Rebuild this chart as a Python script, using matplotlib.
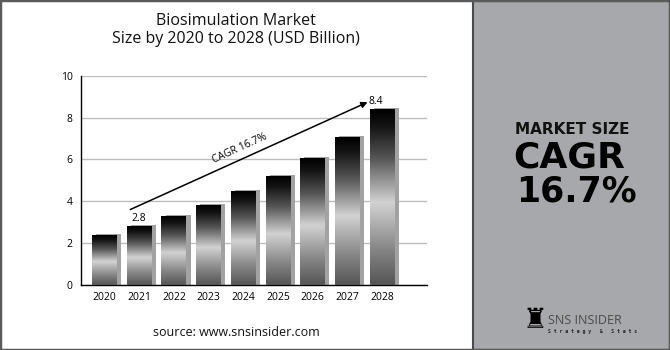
import matplotlib
matplotlib.use("Agg")
import matplotlib.pyplot as plt
import numpy as np
from matplotlib.colors import LinearSegmentedColormap
from matplotlib.patches import Rectangle

years = ["2020", "2021", "2022", "2023", "2024", "2025", "2026", "2027", "2028"]
values = [2.38, 2.8, 3.27, 3.82, 4.45, 5.2, 6.05, 7.07, 8.4]
yticks = [0, 2, 4, 6, 8, 10]
labeled = {"2021": "2.8", "2028": "8.4"}
title = "Biosimulation Market\nSize by 2020 to 2028 (USD Billion)"
cagr_text = "CAGR 16.7%"

fig = plt.figure(figsize=(6.7, 3.5), dpi=100)
fig.patch.set_facecolor("white")

# right panel
fig.patches.append(Rectangle((473/670, 0.0), 1 - 473/670, 1.0, transform=fig.transFigure,
                             facecolor="#a7a8ab", edgecolor="#4a4a4a", lw=1.5, zorder=0))
# outer frame
fig.patches.append(Rectangle((0.0, 0.0), 1.0, 1.0, transform=fig.transFigure,
                             facecolor="none", edgecolor="#5a5a5a", lw=2.5, zorder=5))

ax = fig.add_axes([81/670, 65/350, 346/670, 209.3/350])
x = np.arange(len(years))
w = 0.72

cmap = LinearSegmentedColormap.from_list("bar", [
    (0.0, "#555555"), (0.2, "#858585"), (0.47, "#d2d2d2"),
    (0.72, "#565656"), (0.9, "#151515"), (1.0, "#000000")])
grad = np.linspace(0, 1, 256).reshape(-1, 1)

ax.bar(x + 0.12, np.array(values) + 0.07, width=w, color="#a2a2a2", zorder=2)
for xi, v in zip(x, values):
    ax.imshow(grad, cmap=cmap, origin="lower", aspect="auto",
              extent=[xi - w/2, xi + w/2, 0, v], zorder=3, interpolation="bilinear")
ax.set_xlim(-0.677, 9.29)
ax.set_ylim(0, 10)

ax.set_yticks(yticks)
ax.yaxis.grid(True, color="#bdbdbd", lw=1)
ax.set_axisbelow(True)
ax.set_xticks(x)
ax.set_xticklabels(years, fontsize=7.5, family="Open Sans")
for t in ax.get_yticklabels():
    t.set_fontsize(7.5)
    t.set_family("Open Sans")
ax.tick_params(length=0, pad=5)
ax.tick_params(axis="y", pad=6)
for s in ["top", "right"]:
    ax.spines[s].set_visible(False)
ax.spines["left"].set_color("black")
ax.spines["bottom"].set_color("black")
ax.spines["left"].set_linewidth(1)
ax.spines["bottom"].set_linewidth(1)

for xi, yr, v in zip(x, years, values):
    if yr in labeled:
        dx = -0.2 if yr == "2028" else 0
        ax.text(xi + dx, v + 0.12, labeled[yr], ha="center", va="bottom",
                fontsize=7.5, family="Open Sans")

ax.annotate("", xy=(7.65, 8.79), xytext=(0.67, 3.55),
            arrowprops=dict(arrowstyle="-|>", color="black", lw=1.1,
                            mutation_scale=9), zorder=6)
ax.text(3.91, 6.53, cagr_text, rotation=24.5, ha="center", va="center",
        fontsize=7.5, family="Open Sans", rotation_mode="anchor")

fig.text(236/670, 1 - 30/350, title, ha="center", va="center", fontsize=11.5,
         family="Open Sans", linespacing=1.2, color="#111111")
fig.text(236/670, 1 - 332/350, "source: www.snsinsider.com", ha="center", va="center",
         fontsize=9, family="Open Sans", color="#111111")

fig.text(572/670, 1 - 129/350, "MARKET SIZE", ha="center", va="center",
         fontsize=11, fontweight="bold", family="DejaVu Sans", color="#111111")
fig.text(569/670, 1 - 157.5/350, "CAGR", ha="center", va="center",
         fontsize=26, fontweight="bold", family="DejaVu Sans", color="black")
fig.text(576/670, 1 - 191/350, "16.7%", ha="center", va="center",
         fontsize=25, fontweight="bold", family="DejaVu Sans", color="black")

fig.text(535/670, 1 - 320/350, "\u265C", ha="center", va="center",
         fontsize=20, family="DejaVu Sans", color="black")
fig.text(548/670, 1 - 321/350, "SNS INSIDER", ha="left", va="center",
         fontsize=9, family="Open Sans", color="#4a4a4a")
fig.text(548/670, 1 - 331.5/350, "S t r a t e g y   &   S t a t s", ha="left", va="center",
         fontsize=3.5, fontweight="bold", family="DejaVu Sans Mono", color="#222222")

fig.savefig("out.png", dpi=100)
